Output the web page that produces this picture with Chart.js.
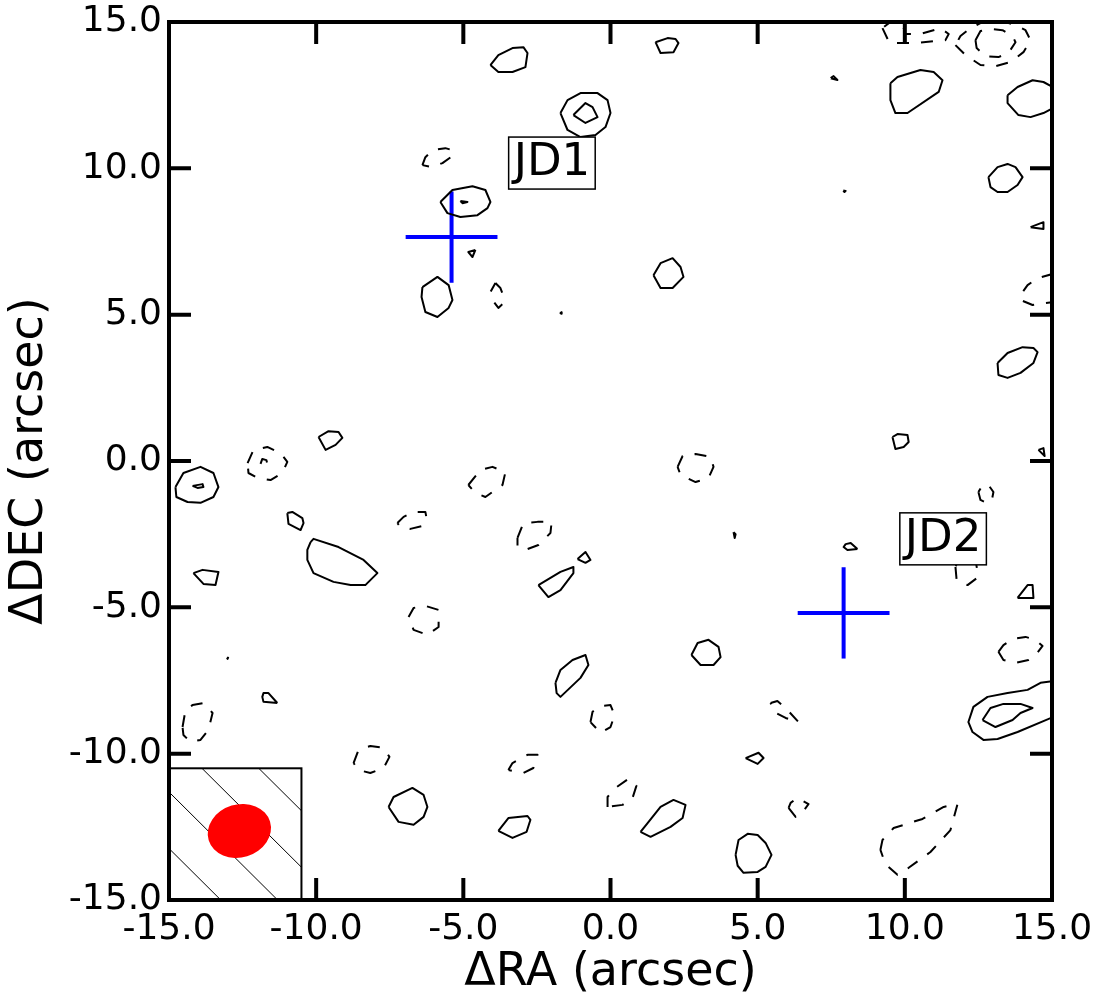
<!DOCTYPE html>
<html>
<head>
<meta charset="utf-8">
<script src="https://cdn.jsdelivr.net/npm/chart.js@4.4.1/dist/chart.umd.min.js"></script>
<style>
  html, body { margin: 0; padding: 0; background: #fff; }
  #wrap { width: 1106px; height: 992px; }
</style>
</head>
<body>
<div id="wrap"><canvas id="mapChart"></canvas></div>
<script>
// offsets in arcsec (RA, DEC)
// positive contours - solid
const posContours = [
  [[-4.08,13.53],[-3.81,13.87],[-3.33,14.11],[-2.96,14.14],[-2.82,13.94],[-2.89,13.46],[-3.33,13.29],[-3.81,13.29]],
  [[1.53,14.31],[1.94,14.45],[2.21,14.42],[2.31,14.28],[2.14,13.97],[1.70,13.94]],
  [[-1.70,11.89],[-1.46,12.33],[-1.02,12.57],[-0.44,12.57],[-0.10,12.33],[0,11.89],[-0.17,11.41],[-0.51,11.14],[-1.02,11.07],[-1.46,11.31]],
  [[-1.26,11.82],[-0.85,12.23],[-0.61,12.09],[-0.44,11.75],[-0.85,11.55]],
  [[-5.78,8.85],[-5.37,9.26],[-4.69,9.39],[-4.25,9.26],[-4.08,8.85],[-4.18,8.64],[-4.52,8.40],[-5.10,8.34],[-5.54,8.47]],
  [[-5.10,8.88],[-4.86,8.85],[-5.03,8.81]],
  [[-4.59,7.21],[-4.83,7.14],[-4.69,6.97]],
  [[-6.39,5.94],[-5.88,6.29],[-5.50,6.01],[-5.37,5.50],[-5.50,5.23],[-5.88,4.92],[-6.29,5.09],[-6.42,5.60]],
  [[-1.72,5.06],[-1.66,5.08],[-1.66,5.03]],
  [[1.46,6.35],[1.70,6.76],[2.11,6.93],[2.38,6.63],[2.48,6.29],[2.11,5.91],[1.70,5.91]],
  [[7.48,13.08],[7.58,13.15],[7.71,13.02]],
  [[9.51,12.91],[9.75,13.12],[10.53,13.36],[10.98,13.29],[11.28,13.01],[11.15,12.61],[10.09,11.89],[9.68,11.89],[9.51,12.33]],
  [[13.49,12.50],[13.83,12.78],[14.34,13.01],[14.71,12.95],[15.1,12.74],[15.1,12.09],[14.71,11.89],[14.27,11.75],[13.86,11.82],[13.49,12.23]],
  [[12.84,9.70],[13.15,10.04],[13.49,10.15],[13.76,10.04],[14.00,9.70],[13.83,9.43],[13.49,9.19],[13.15,9.19],[12.91,9.36]],
  [[7.91,9.24],[7.99,9.23],[7.95,9.19]],
  [[14.27,7.99],[14.71,8.16],[14.71,7.93]],
  [[-14.78,-0.89],[-14.51,-0.41],[-13.93,-0.20],[-13.49,-0.41],[-13.32,-0.89],[-13.49,-1.23],[-13.93,-1.43],[-14.37,-1.40],[-14.75,-1.23]],
  [[-14.20,-0.85],[-13.86,-0.79],[-13.83,-0.89],[-14.03,-0.92]],
  [[-9.92,0.82],[-9.58,1.02],[-9.24,0.99],[-9.11,0.79],[-9.34,0.55],[-9.68,0.38]],
  [[-10.98,-1.78],[-10.81,-1.74],[-10.47,-1.95],[-10.43,-2.12],[-10.53,-2.36],[-10.94,-2.15]],
  [[-10.19,-2.77],[-10.09,-2.66],[-9.24,-2.94],[-8.39,-3.38],[-7.92,-3.83],[-8.33,-4.24],[-8.83,-4.24],[-9.41,-4.13],[-10.09,-3.83],[-10.30,-3.38],[-10.30,-3.04]],
  [[-14.17,-3.83],[-13.86,-3.72],[-13.32,-3.79],[-13.42,-4.24],[-13.83,-4.20]],
  [[-13.03,-6.72],[-12.99,-6.72],[-13.01,-6.76]],
  [[-1.12,-3.35],[-0.85,-3.11],[-0.68,-3.38],[-0.85,-3.48]],
  [[-2.45,-4.24],[-1.70,-3.79],[-1.26,-3.62],[-1.26,-3.83],[-1.70,-4.41],[-2.11,-4.65]],
  [[4.18,-2.43],[4.25,-2.50],[4.22,-2.63]],
  [[2.75,-6.63],[2.96,-6.22],[3.33,-6.11],[3.67,-6.35],[3.74,-6.70],[3.50,-6.97],[3.06,-6.97]],
  [[13.15,3.35],[13.49,3.69],[14.00,3.89],[14.37,3.86],[14.51,3.72],[14.37,3.35],[13.93,3.01],[13.49,2.84],[13.18,2.94]],
  [[9.58,0.82],[9.75,0.92],[10.09,0.89],[10.13,0.65],[9.96,0.48],[9.68,0.41]],
  [[14.54,0.38],[14.71,0.44],[14.75,0.17]],
  [[8.39,-3.01],[8.05,-3.04],[7.92,-2.94],[7.99,-2.84],[8.16,-2.80]],
  [[13.83,-4.68],[14.17,-4.24],[14.34,-4.24],[14.37,-4.68]],
  [[-11.32,-8.27],[-11.79,-8.23],[-11.83,-8.06],[-11.79,-7.93],[-11.62,-7.93]],
  [[-7.54,-11.82],[-7.37,-11.48],[-6.73,-11.17],[-6.35,-11.41],[-6.22,-11.82],[-6.35,-12.16],[-6.69,-12.43],[-7.20,-12.33]],
  [[-1.87,-7.58],[-1.70,-7.14],[-1.29,-6.80],[-0.85,-6.63],[-0.75,-6.97],[-1.02,-7.41],[-1.70,-8.06],[-1.83,-7.93]],
  [[-3.81,-12.64],[-3.47,-12.20],[-2.82,-12.13],[-2.72,-12.26],[-2.85,-12.67],[-3.33,-12.88]],
  [[1.02,-12.67],[1.26,-12.37],[1.70,-11.82],[2.14,-11.58],[2.55,-11.75],[2.45,-12.20],[2.04,-12.50],[1.36,-12.84]],
  [[4.25,-13.46],[4.35,-12.95],[4.66,-12.74],[5.00,-12.78],[5.27,-13.05],[5.47,-13.46],[5.27,-13.87],[5.00,-14.04],[4.52,-14.07],[4.32,-13.83]],
  [[4.59,-10.15],[5.03,-9.97],[5.20,-10.15],[5.00,-10.35]],
  [[15.2,-7.5],[14.61,-7.58],[14.17,-7.82],[13.49,-7.93],[12.81,-8.06],[12.33,-8.40],[12.16,-8.92],[12.30,-9.26],[12.67,-9.53],[13.15,-9.50],[13.83,-9.26],[15.2,-8.68]],
  [[12.64,-8.85],[12.91,-8.44],[13.35,-8.30],[13.93,-8.30],[14.34,-8.44],[13.93,-8.61],[13.66,-8.85],[13.08,-9.09]]
];

// negative contours - dashed
const negContours = [
  [[-6.39,10.11],[-6.29,10.38],[-6.05,10.62],[-5.61,10.69],[-5.37,10.62],[-5.33,10.45],[-5.71,10.18],[-6.05,10.04]],
  [[-3.91,6.08],[-3.74,5.91],[-3.64,5.64],[-3.67,5.36],[-3.81,5.23],[-4.01,5.50],[-4.08,5.77]],
  [[15.2,5.45],[14.78,5.40],[14.34,5.33],[13.93,5.50],[14.00,5.77],[14.17,6.01],[14.51,6.25],[15.02,6.39],[15.2,6.4]],
  [[11.72,14.21],[12.06,13.87],[12.57,13.53],[13.08,13.49],[13.59,13.63],[14.03,13.97],[14.27,14.38],[14.10,14.72],[13.76,14.89],[13.25,15.05],[12.74,15.05],[12.23,14.79],[11.89,14.52]],
  [[12.40,14.38],[12.57,14.69],[12.91,14.76],[13.32,14.72],[13.66,14.52],[13.76,14.31],[13.52,13.94],[13.18,13.80],[12.74,13.83],[12.44,14.11]],
  [[9.24,14.79],[9.48,14.28],[10.36,14.28],[11.38,14.38],[11.49,14.59],[11.21,14.79],[10.53,14.59],[10.02,14.59],[9.92,14.93],[9.51,15.0]],
  [[-12.33,-0.07],[-12.13,0.38],[-11.66,0.48],[-11.21,0.27],[-10.98,-0.03],[-11.15,-0.41],[-11.55,-0.65],[-11.99,-0.58],[-12.30,-0.41]],
  [[-11.89,-0.10],[-11.83,0.07],[-11.69,0.03],[-11.66,-0.10]],
  [[-4.83,-0.82],[-4.42,-0.31],[-4.01,-0.20],[-3.57,-0.38],[-3.67,-0.82],[-4.25,-1.23],[-4.59,-1.09]],
  [[-7.24,-2.12],[-7.03,-1.91],[-6.69,-1.74],[-6.29,-1.74],[-6.25,-1.95],[-6.39,-2.22],[-6.80,-2.32],[-7.14,-2.25]],
  [[-3.16,-2.63],[-2.96,-2.12],[-2.48,-2.08],[-2.00,-2.08],[-2.04,-2.46],[-2.45,-2.87],[-2.82,-3.01],[-3.16,-2.94]],
  [[2.28,-0.20],[2.45,0.17],[2.89,0.24],[3.40,0.14],[3.50,-0.20],[3.33,-0.58],[2.89,-0.72],[2.38,-0.48]],
  [[-6.86,-5.33],[-6.69,-5.02],[-6.29,-4.95],[-5.84,-5.09],[-5.84,-5.67],[-6.22,-5.94],[-6.69,-5.77]],
  [[12.50,-1.06],[12.57,-1.33],[12.78,-1.43],[12.95,-1.37],[13.01,-1.06],[12.84,-0.82],[12.64,-0.82]],
  [[11.72,-3.62],[11.76,-4.07],[12.13,-4.24],[12.50,-3.96],[12.40,-3.38],[11.89,-3.21]],
  [[13.18,-6.52],[13.35,-6.29],[13.66,-6.08],[14.10,-6.01],[14.44,-6.11],[14.68,-6.32],[14.44,-6.63],[14.20,-6.80],[13.76,-6.90],[13.35,-6.80]],
  [[-14.54,-9.09],[-14.44,-8.51],[-14.20,-8.34],[-13.83,-8.27],[-13.52,-8.61],[-13.66,-9.19],[-13.93,-9.53],[-14.27,-9.60],[-14.51,-9.36]],
  [[-8.73,-10.32],[-8.56,-9.87],[-8.16,-9.74],[-7.71,-9.80],[-7.51,-10.11],[-7.71,-10.49],[-8.16,-10.66],[-8.56,-10.56]],
  [[-0.68,-8.92],[-0.61,-8.57],[-0.34,-8.37],[0,-8.34],[0.14,-8.68],[0,-9.09],[-0.34,-9.29]],
  [[-3.47,-10.56],[-3.33,-10.32],[-2.82,-10.04],[-2.48,-10.04],[-2.62,-10.49],[-2.96,-10.66]],
  [[-0.10,-11.82],[-0.10,-11.48],[0.17,-11.17],[0.61,-10.86],[0.88,-11.10],[0.75,-11.51],[0.41,-11.75]],
  [[5.44,-8.27],[5.67,-8.20],[5.95,-8.44],[6.39,-8.92],[5.95,-8.78],[5.54,-8.57]],
  [[6.05,-11.85],[6.29,-12.16],[6.46,-12.09],[6.73,-11.72],[6.35,-11.51],[6.12,-11.68]],
  [[9.17,-13.29],[9.24,-12.95],[9.62,-12.54],[10.60,-12.23],[11.32,-11.82],[11.79,-11.72],[11.55,-12.61],[10.87,-13.36],[10.13,-13.90],[9.75,-14.14],[9.34,-13.77]]
];

// candidate positions and their labels
const sourceNames = ['JD1', 'JD2'];
const sourceRA = [-5.40, 7.92];
const sourceDec = [7.65, -5.19];
const crossHalf = 1.56;
const labelRA = [-1.99, 11.30];
const labelDec = [10.18, -2.66];

// synthesized beam, drawn in the lower-left corner
const beamRA = -12.61;
const beamDec = -12.64;
const beamMajor = 2.18;
const beamMinor = 1.81;
const beamPA = 17;
const beamBoxEdge = -10.5;

const tickValues = [-15, -10, -5, 0, 5, 10, 15];

Chart.defaults.font.family = '"DejaVu Sans", sans-serif';
Chart.defaults.color = '#000';

function toPoints(c) {
  const pts = c.map(p => ({x: p[0], y: p[1]}));
  pts.push({x: c[0][0], y: c[0][1]});
  return pts;
}

const datasets = [];
posContours.forEach(c => datasets.push({
  data: toPoints(c), borderColor: '#000', borderWidth: 2
}));
negContours.forEach(c => datasets.push({
  data: toPoints(c), borderColor: '#000', borderWidth: 2, borderDash: [12, 12]
}));
for (let i = 0; i < sourceNames.length; i++) {
  datasets.push({
    data: [{x: sourceRA[i] - crossHalf, y: sourceDec[i]}, {x: sourceRA[i] + crossHalf, y: sourceDec[i]}],
    borderColor: '#0000ff', borderWidth: 4
  });
  datasets.push({
    data: [{x: sourceRA[i], y: sourceDec[i] - crossHalf}, {x: sourceRA[i], y: sourceDec[i] + crossHalf}],
    borderColor: '#0000ff', borderWidth: 4
  });
}

// beam inset: white hatched box with the red ellipse
const beamPlugin = {
  id: 'beam',
  afterDatasetsDraw(chart) {
    const {ctx, scales: {x, y}} = chart;
    const x0 = x.getPixelForValue(-15), x1 = x.getPixelForValue(beamBoxEdge);
    const y0 = y.getPixelForValue(beamBoxEdge), y1 = y.getPixelForValue(-15);
    ctx.save();
    ctx.fillStyle = '#fff';
    ctx.fillRect(x0, y0, x1 - x0, y1 - y0);
    ctx.save();
    ctx.beginPath();
    ctx.rect(x0, y0, x1 - x0, y1 - y0);
    ctx.clip();
    ctx.strokeStyle = '#000';
    ctx.lineWidth = 1;
    for (let k = 0; k < 6; k++) {
      const s = -22.45 - k * 1.93;
      ctx.beginPath();
      ctx.moveTo(x.getPixelForValue(s + 9), y.getPixelForValue(-9));
      ctx.lineTo(x.getPixelForValue(s + 16), y.getPixelForValue(-16));
      ctx.stroke();
    }
    ctx.restore();
    const sx = Math.abs(x.getPixelForValue(1) - x.getPixelForValue(0));
    const sy = Math.abs(y.getPixelForValue(1) - y.getPixelForValue(0));
    ctx.fillStyle = '#ff0000';
    ctx.beginPath();
    ctx.ellipse(x.getPixelForValue(beamRA), y.getPixelForValue(beamDec),
      beamMajor / 2 * sx, beamMinor / 2 * sy, -beamPA * Math.PI / 180, 0, 2 * Math.PI);
    ctx.fill();
    ctx.strokeStyle = '#000';
    ctx.lineWidth = 2;
    ctx.strokeRect(x0, y0, x1 - x0, y1 - y0);
    ctx.restore();
  }
};

// boxed source names
const labelPlugin = {
  id: 'labels',
  afterDatasetsDraw(chart) {
    const {ctx, scales: {x, y}} = chart;
    ctx.save();
    ctx.font = '45px "DejaVu Sans"';
    ctx.textAlign = 'center';
    ctx.textBaseline = 'alphabetic';
    sourceNames.forEach((name, i) => {
      const cx = x.getPixelForValue(labelRA[i]);
      const cy = y.getPixelForValue(labelDec[i]);
      const w = ctx.measureText(name).width + 10;
      const h = 52;
      ctx.fillStyle = '#fff';
      ctx.fillRect(cx - w / 2, cy - h / 2, w, h);
      ctx.strokeStyle = '#000';
      ctx.lineWidth = 1.5;
      ctx.strokeRect(cx - w / 2, cy - h / 2, w, h);
      ctx.fillStyle = '#000';
      ctx.fillText(name, cx, cy + 12);
    });
    ctx.restore();
  }
};

// heavy frame with inward ticks on all four sides
const framePlugin = {
  id: 'frame',
  afterDraw(chart) {
    const {ctx, chartArea: a, scales: {x, y}} = chart;
    const len = 22;
    ctx.save();
    ctx.strokeStyle = '#000';
    ctx.lineWidth = 4;
    ctx.beginPath();
    tickValues.forEach(v => {
      const px = x.getPixelForValue(v);
      const py = y.getPixelForValue(v);
      ctx.moveTo(px, a.bottom); ctx.lineTo(px, a.bottom - len);
      ctx.moveTo(px, a.top); ctx.lineTo(px, a.top + len);
      ctx.moveTo(a.left, py); ctx.lineTo(a.left + len, py);
      ctx.moveTo(a.right, py); ctx.lineTo(a.right - len, py);
    });
    ctx.stroke();
    ctx.strokeRect(a.left, a.top, a.right - a.left, a.bottom - a.top);
    ctx.restore();
  }
};

new Chart(document.getElementById('mapChart'), {
  type: 'scatter',
  data: {datasets},
  options: {
    responsive: true,
    maintainAspectRatio: false,
    animation: false,
    showLine: true,
    elements: {
      point: {radius: 0, hoverRadius: 0},
      line: {tension: 0, borderJoinStyle: 'round', fill: false}
    },
    layout: {padding: {top: 22, right: 54, bottom: 0, left: 0}},
    plugins: {legend: {display: false}, tooltip: {enabled: false}},
    events: [],
    scales: {
      x: {
        type: 'linear', min: -15, max: 15,
        grid: {display: false, drawTicks: false},
        border: {display: false},
        ticks: {stepSize: 5, autoSkip: false, maxRotation: 0, padding: 8,
          font: {size: 36}, callback: v => v.toFixed(1)},
        title: {display: true, text: 'ΔRA (arcsec)', font: {size: 46, lineHeight: 1},
          padding: {top: 0, bottom: -4}},
        afterFit: s => { s.height = 92; s.paddingLeft = 0; s.paddingRight = 0; }
      },
      y: {
        type: 'linear', min: -15, max: 15,
        grid: {display: false, drawTicks: false},
        border: {display: false},
        ticks: {stepSize: 5, autoSkip: false, padding: 7,
          font: {size: 36}, callback: v => v.toFixed(1)},
        title: {display: true, text: 'ΔDEC (arcsec)', font: {size: 46, lineHeight: 1},
          padding: {top: 7, bottom: 0}},
        afterFit: s => { s.width = 169; s.paddingTop = 0; s.paddingBottom = 0; }
      }
    }
  },
  plugins: [beamPlugin, labelPlugin, framePlugin]
});
</script>
</body>
</html>
